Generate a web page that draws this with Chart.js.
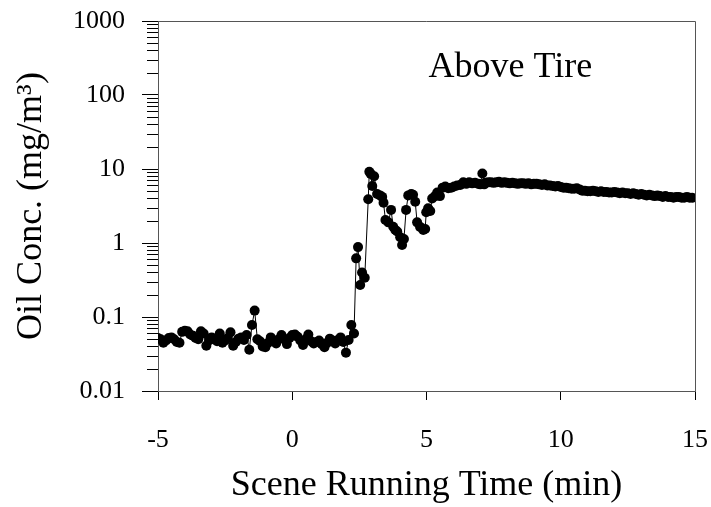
<!DOCTYPE html>
<html>
<head>
<meta charset="utf-8">
<script src="https://cdn.jsdelivr.net/npm/chart.js@4/dist/chart.umd.min.js"></script>
<style>
html,body{margin:0;padding:0;background:#fff;}
canvas{display:block;}
</style>
</head>
<body>
<canvas id="c" width="711" height="507"></canvas>
<script>
// ---- data ----
const baseTimes = [-5.0,-4.9,-4.8,-4.7,-4.6,-4.5,-4.4,-4.3,-4.2,-4.1,-4.0,-3.9,-3.8,-3.7,-3.6,-3.5,-3.4,-3.3,-3.2,-3.1,-3.0,-2.9,-2.8,-2.7,-2.6,-2.5,-2.4,-2.3,-2.2,-2.1,-2.0,-1.9,-1.8,-1.7,-1.6,-1.5,-1.4,-1.3,-1.2,-1.1,-1.0,-0.9,-0.8,-0.7,-0.6,-0.5,-0.4,-0.3,-0.2,-0.1,0.0,0.1,0.2,0.3,0.4,0.5,0.6,0.7,0.8,0.9,1.0,1.1,1.2,1.3,1.4,1.5,1.6,1.7,1.8,1.9,2.0,2.1,2.2];
const baseValues = [0.052,0.050,0.045,0.048,0.052,0.053,0.050,0.046,0.045,0.063,0.065,0.064,0.058,0.056,0.052,0.050,0.064,0.060,0.041,0.048,0.053,0.050,0.047,0.060,0.045,0.048,0.052,0.062,0.041,0.046,0.051,0.053,0.049,0.057,0.036,0.078,0.122,0.050,0.047,0.040,0.039,0.045,0.053,0.048,0.044,0.050,0.057,0.050,0.043,0.052,0.057,0.058,0.054,0.048,0.042,0.050,0.058,0.047,0.044,0.046,0.048,0.043,0.039,0.045,0.051,0.048,0.044,0.049,0.053,0.046,0.033,0.049,0.078];
const riseTimes = [2.30,2.38,2.45,2.53,2.60,2.70,2.83,2.87,2.92,2.98,3.05,3.16,3.27,3.35,3.40,3.47,3.58,3.68,3.76,3.84,3.91,4.02,4.09,4.16,4.24,4.32,4.43,4.50,4.58,4.65,4.76,4.88,4.95,4.99,5.06,5.14,5.21,5.32,5.40,5.50,5.60,5.70,5.81,5.92,6.03,6.14,6.26,6.37,6.48,6.59,6.70,6.81,6.93,7.00,7.08,7.15];
const riseValues = [0.060,0.62,0.88,0.27,0.40,0.34,3.9,9.2,8.6,5.9,8.0,4.6,4.4,4.2,3.5,2.05,1.9,2.8,1.66,1.5,1.43,1.2,0.94,1.13,2.8,4.4,4.6,4.5,3.6,1.9,1.65,1.5,1.55,2.6,2.95,2.7,4.0,4.3,4.8,4.3,5.6,5.8,5.5,5.6,5.8,6.0,6.1,6.6,6.3,6.6,6.4,6.5,6.3,6.2,8.7,6.2];
const tailTimes = [7.2,7.3,7.4,7.5,7.6,7.7,7.8,7.9,8.0,8.1,8.2,8.3,8.4,8.5,8.6,8.7,8.8,8.9,9.0,9.1,9.2,9.3,9.4,9.5,9.6,9.7,9.8,9.9,10.0,10.1,10.2,10.3,10.4,10.5,10.6,10.7,10.8,10.9,11.0,11.1,11.2,11.3,11.4,11.5,11.6,11.7,11.8,11.9,12.0,12.1,12.2,12.3,12.4,12.5,12.6,12.7,12.8,12.9,13.0,13.1,13.2,13.3,13.4,13.5,13.6,13.7,13.8,13.9,14.0,14.1,14.2,14.3,14.4,14.5,14.6,14.7,14.8,14.9];
const tailValues = [6.5,6.6,6.6,6.5,6.6,6.7,6.5,6.6,6.5,6.4,6.5,6.4,6.3,6.4,6.4,6.3,6.4,6.2,6.3,6.3,6.2,6.1,6.2,6.0,6.0,5.9,5.8,5.9,5.7,5.6,5.6,5.5,5.4,5.4,5.5,5.3,5.1,5.1,5.0,5.0,5.1,5.0,4.9,5.0,4.9,4.9,4.8,4.8,4.9,4.8,4.7,4.8,4.7,4.7,4.6,4.7,4.6,4.5,4.6,4.5,4.4,4.5,4.4,4.3,4.4,4.3,4.2,4.3,4.2,4.2,4.1,4.2,4.2,4.1,4.1,4.2,4.1,4.1];

const xTicks = [-5, 0, 5, 10, 15];
const yTickValues = [0.01, 0.1, 1, 10, 100, 1000];
const yTickLabels = ['0.01', '0.1', '1', '10', '100', '1000'];
const xTitle = 'Scene Running Time (min)';
const yTitle = 'Oil Conc. (mg/m³)';
const annotation = 'Above Tire';

// ---- build points ----
const times = baseTimes.concat(riseTimes, tailTimes);
const values = baseValues.concat(riseValues, tailValues);
const points = times.map((t, i) => ({x: t, y: values[i]}));

const SERIF = '"Liberation Serif", "Times New Roman", serif';
const PLOT = {left: 158, right: 695, top: 21, bottom: 391};

function isMajor(v) {
  return yTickValues.some(m => Math.abs(v / m - 1) < 1e-6);
}

const framePlugin = {
  id: 'frame',
  afterDraw(chart) {
    const ctx = chart.ctx;
    const a = chart.chartArea;
    const ys = chart.scales.y;
    const xs = chart.scales.x;
    ctx.save();
    // top and right frame lines
    ctx.strokeStyle = '#555';
    ctx.lineWidth = 1;
    ctx.beginPath();
    ctx.moveTo(a.left, Math.round(a.top) + 0.5);
    ctx.lineTo(Math.round(a.right) + 0.5, Math.round(a.top) + 0.5);
    ctx.lineTo(Math.round(a.right) + 0.5, a.bottom);
    ctx.stroke();
    // minor y ticks (shorter)
    ctx.strokeStyle = '#000';
    ctx.beginPath();
    ys.ticks.forEach(t => {
      if (!isMajor(t.value)) {
        const y = Math.round(ys.getPixelForValue(t.value)) + 0.5;
        ctx.moveTo(a.left - 11, y);
        ctx.lineTo(a.left, y);
      }
    });
    ctx.stroke();
    // annotation text
    ctx.fillStyle = '#000';
    ctx.font = '36px ' + SERIF;
    ctx.textAlign = 'left';
    ctx.textBaseline = 'alphabetic';
    ctx.fillText(annotation, xs.getPixelForValue(5) + 2, a.top + 56);
    ctx.restore();
  }
};

new Chart(document.getElementById('c'), {
  type: 'line',
  data: {
    datasets: [{
      data: points,
      borderColor: '#000',
      borderWidth: 1,
      pointRadius: 5,
      pointBackgroundColor: '#000',
      pointBorderColor: '#000',
      pointBorderWidth: 0,
      tension: 0,
      fill: false
    }]
  },
  options: {
    responsive: false,
    animation: false,
    devicePixelRatio: 1,
    layout: {padding: {left: 0, right: 711 - PLOT.right, top: PLOT.top, bottom: 0}},
    plugins: {legend: {display: false}, tooltip: {enabled: false}},
    scales: {
      x: {
        type: 'linear',
        min: -5, max: 15,
        afterBuildTicks(s) { s.ticks = xTicks.map(v => ({value: v})); },
        afterFit(s) { s.height = 507 - PLOT.bottom; s.paddingLeft = 0; s.paddingRight = 0; },
        grid: {drawOnChartArea: false, drawTicks: true, tickLength: 9, tickColor: '#000', tickWidth: 1},
        border: {display: true, color: '#555', width: 1},
        ticks: {
          color: '#000', padding: 25, maxRotation: 0,
          font: {family: SERIF, size: 26},
          callback: v => String(v)
        },
        title: {display: true, text: xTitle, color: '#000', font: {family: SERIF, size: 36}, padding: {top: 0, bottom: 0}}
      },
      y: {
        type: 'logarithmic',
        min: 0.01, max: 1000,
        afterBuildTicks(s) {
          const t = [];
          yTickValues.forEach((d, i) => {
            t.push({value: d});
            if (i < yTickValues.length - 1) {
              for (let m = 2; m <= 9; m++) t.push({value: d * m});
            }
          });
          s.ticks = t;
        },
        afterFit(s) { s.width = PLOT.left; s.paddingTop = 0; s.paddingBottom = 0; },
        grid: {
          drawOnChartArea: false, drawTicks: true, tickLength: 16, tickWidth: 1,
          tickColor: ctx => (ctx.tick && isMajor(ctx.tick.value)) ? '#000' : 'rgba(0,0,0,0)'
        },
        border: {display: true, color: '#555', width: 1},
        ticks: {
          color: '#000', padding: 17, autoSkip: false,
          font: {family: SERIF, size: 26},
          callback: function(v) {
            const i = yTickValues.findIndex(m => Math.abs(v / m - 1) < 1e-6);
            return i >= 0 ? yTickLabels[i] : '';
          }
        },
        title: {display: true, text: yTitle, color: '#000', font: {family: SERIF, size: 36}, padding: {top: 10, bottom: 0}}
      }
    }
  },
  plugins: [framePlugin]
});
</script>
</body>
</html>
